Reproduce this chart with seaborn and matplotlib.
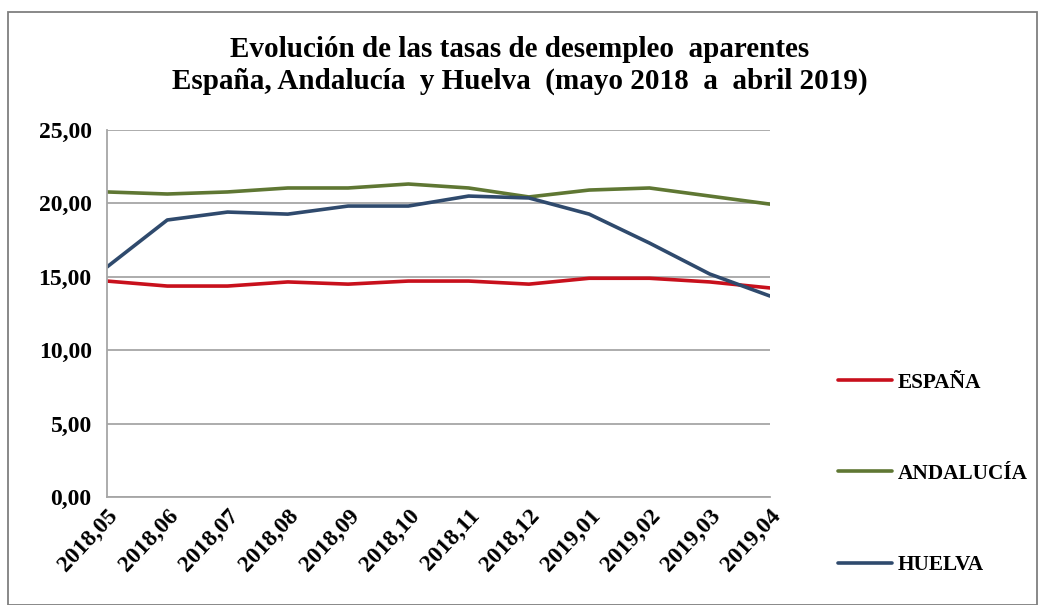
"""
Evolución de las tasas de desempleo aparentes
España, Andalucía y Huelva (mayo 2018 a abril 2019)
"""

import matplotlib
matplotlib.use("Agg")
import matplotlib.pyplot as plt
from matplotlib.patches import Rectangle
import seaborn as sns
import pandas as pd

# Data
MONTHS = [
    "2018,05", "2018,06", "2018,07", "2018,08", "2018,09", "2018,10",
    "2018,11", "2018,12", "2019,01", "2019,02", "2019,03", "2019,04"
]
ESPANA = [14.71, 14.37, 14.37, 14.65, 14.50, 14.71, 14.71, 14.50, 14.90, 14.90, 14.65, 14.24]
ANDALUCIA = [20.78, 20.64, 20.78, 21.05, 21.05, 21.32, 21.05, 20.44, 20.91, 21.05, 20.50, 19.95]
HUELVA = [15.67, 18.87, 19.41, 19.27, 19.82, 19.82, 20.50, 20.37, 19.27, 17.30, 15.19, 13.69]

SERIES = ["ESPAÑA", "ANDALUCÍA", "HUELVA"]
COLORS = {"ESPAÑA": "#c8101c", "ANDALUCÍA": "#5f7733", "HUELVA": "#2f4a6d"}
Y_TICKS = [0, 5, 10, 15, 20, 25]

df = pd.DataFrame({"mes": MONTHS, "ESPAÑA": ESPANA,
                   "ANDALUCÍA": ANDALUCIA, "HUELVA": HUELVA})
long_df = df.melt(id_vars="mes", var_name="serie", value_name="tasa")

sns.set_style("white")
plt.rcParams["font.family"] = ["Liberation Serif", "DejaVu Serif"]
plt.rcParams["text.color"] = "black"
plt.rcParams["xtick.color"] = "black"
plt.rcParams["ytick.color"] = "black"

fig = plt.figure(figsize=(10.39, 6.05), dpi=100)
ax = fig.add_axes([107 / 1039, 1 - 497 / 605, (770 - 107) / 1039, (497 - 130) / 605])

sns.lineplot(data=long_df, x="mes", y="tasa", hue="serie", hue_order=SERIES,
             palette=COLORS, linewidth=2.6, sort=False, ax=ax)

ax.set_ylim(0, 25)
ax.set_xlim(0, len(MONTHS) - 1)
ax.set_yticks(Y_TICKS)
ax.set_yticklabels([f"{v:.2f}".replace(".", ",") for v in Y_TICKS],
                   fontsize=17, fontweight="bold")
ax.set_xticks(range(len(MONTHS)))
ax.set_xticklabels(MONTHS, rotation=47, ha="right", rotation_mode="anchor",
                   fontsize=17, fontweight="bold")
ax.tick_params(axis="y", length=0, pad=11)
ax.tick_params(axis="x", length=0, pad=6)
ax.set_xlabel("")
ax.set_ylabel("")

ax.yaxis.grid(True, color="#a6a6a6", linewidth=1.3)
ax.set_axisbelow(True)
for side in ["top", "right"]:
    ax.spines[side].set_visible(False)
for side in ["left", "bottom"]:
    ax.spines[side].set_color("#a6a6a6")
    ax.spines[side].set_linewidth(1.3)

# Legend at the right, widely spaced
handles, labels = ax.get_legend_handles_labels()
ax.legend(handles, labels, loc="center left", bbox_to_anchor=(1.074, 0.063),
          frameon=False, labelspacing=3.35, handlelength=2.55, handletextpad=0.25,
          prop={"family": "Liberation Serif", "weight": "bold", "size": 15.3})

fig.suptitle("Evolución de las tasas de desempleo  aparentes\n"
             "España, Andalucía  y Huelva  (mayo 2018  a  abril 2019)",
             y=0.94, fontsize=21, fontweight="bold", linespacing=1.2,
             family=["Liberation Serif", "DejaVu Serif"])

# Chart frame
fig.patches.append(Rectangle((8 / 1039, 0), 1 - 8 / 1039 - 0.002, 1 - 12 / 605,
                             transform=fig.transFigure, fill=False,
                             edgecolor="#7f7f7f", linewidth=1.3))

fig.savefig("out.png", dpi=100)
plt.close(fig)
